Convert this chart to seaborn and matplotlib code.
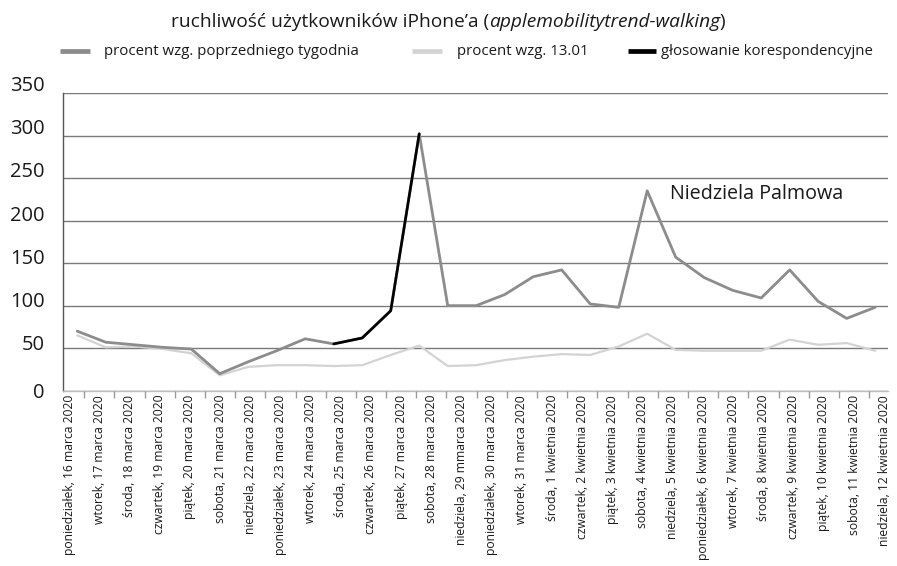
import matplotlib
matplotlib.use("Agg")
import numpy as np
import pandas as pd
import matplotlib.pyplot as plt
import seaborn as sns
from matplotlib.lines import Line2D
from matplotlib.transforms import ScaledTranslation

# ---------------- data ----------------
title_main = "ruchliwość użytkowników iPhone’a ("
title_italic = "applemobilitytrend-walking"
title_end = ")"

day_labels = [
    "poniedziałek, 16 marca 2020", "wtorek, 17 marca 2020", "środa, 18 marca 2020",
    "czwartek, 19 marca 2020", "piątek, 20 marca 2020", "sobota, 21 marca 2020",
    "niedziela, 22 marca 2020", "poniedziałek, 23 marca 2020", "wtorek, 24 marca 2020",
    "środa, 25 marca 2020", "czwartek, 26 marca 2020", "piątek, 27 marca 2020",
    "sobota, 28 marca 2020", "niedziela, 29 mmarca 2020", "poniedziałek, 30 marca 2020",
    "wtorek, 31 marca 2020", "środa, 1 kwietnia 2020", "czwartek, 2 kwietnia 2020",
    "piątek, 3 kwietnia 2020", "sobota, 4 kwietnia 2020", "niedziela, 5 kwietnia 2020",
    "poniedziałek, 6 kwietnia 2020", "wtorek, 7 kwietnia 2020", "środa, 8 kwietnia 2020",
    "czwartek, 9 kwietnia 2020", "piątek, 10 kwietnia 2020", "sobota, 11 kwietnia 2020",
    "niedziela, 12 kwietnia 2020",
]

series_names = ["procent wzg. poprzedniego tygodnia", "procent wzg. 13.01",
                "głosowanie korespondencyjne"]

weekly = [70, 57, 54, 51, 49, 20, 34, 47, 61, 55, 62, 94, 302, 100, 100, 113, 134,
          142, 102, 98, 235, 157, 133, 118, 109, 142, 105, 85, 98]
baseline = [65, 51, 52, 49, 44, 18, 28, 30, 30, 29, 30, 42, 53, 29, 30, 36, 40,
            43, 42, 52, 67, 48, 47, 47, 47, 60, 54, 56, 47]
vote = [np.nan] * 9 + [55, 62, 94, 302] + [np.nan] * 16

y_ticks = [0, 50, 100, 150, 200, 250, 300, 350]
annotation_text = "Niedziela Palmowa"

# ---------------- style ----------------
sns.set_theme(style="white")
plt.rcParams["font.family"] = ["Open Sans", "DejaVu Sans"]
TXT = "#1a1a1a"
colors = ["#8c8c8c", "#d3d3d3", "#000000"]
widths = [2.0, 1.6, 1.9]

W, H = 897, 566
fig = plt.figure(figsize=(W / 100, H / 100), dpi=100)
fig.patch.set_facecolor("white")

# plot area in pixels
left_px, right_px, top_px, bottom_px = 63, 888, 93, 390.7
ax = fig.add_axes([left_px / W, 1 - bottom_px / H, (right_px - left_px) / W,
                   (bottom_px - top_px) / H])

idx = np.arange(len(weekly))
df = pd.DataFrame({"idx": idx, series_names[0]: weekly,
                   series_names[1]: baseline, series_names[2]: vote})
long = df.melt(id_vars="idx", var_name="series", value_name="value")

# draw light first, then dark, then black on top
for name, col, lw in [(series_names[1], colors[1], widths[1]),
                      (series_names[0], colors[0], widths[0]),
                      (series_names[2], colors[2], widths[2])]:
    sub = long[long["series"] == name].dropna()
    sns.lineplot(data=sub, x="idx", y="value", ax=ax, color=col, linewidth=lw,
                 legend=False, sort=False)

ax.set_xlim(-0.5, 28.45)
ax.set_ylim(0, 350)
ax.set_yticks(y_ticks)
ax.set_yticklabels([str(v) for v in y_ticks], fontsize=14.5, color=TXT)
ax.tick_params(axis="y", length=0, pad=13)
for lbl, v in zip(ax.get_yticklabels(), y_ticks):
    if v > 0:
        off = 5 + 0.0125 * v
        lbl.set_transform(lbl.get_transform() +
                          ScaledTranslation(0, off / 100, fig.dpi_scale_trans))
ax.set_xticks([])
ax.set_xlabel("")
ax.set_ylabel("")
ax.yaxis.grid(True, color="#7a7a7a", linewidth=1.0)
ax.set_axisbelow(True)
for s in ["top", "right"]:
    ax.spines[s].set_visible(False)
ax.spines["left"].set_color("#555555")
ax.spines["left"].set_linewidth(1.0)
ax.spines["bottom"].set_color("#bdbdbd")
ax.spines["bottom"].set_linewidth(1.0)

# category label axis
ax2 = ax.twiny()
ax2.set_xlim(-0.199, 27.12)
ax2.xaxis.set_ticks_position("bottom")
ax2.xaxis.set_label_position("bottom")
ax2.set_xticks(np.arange(len(day_labels)))
ax2.set_xticklabels(day_labels, rotation=90, fontsize=8.75, color=TXT, va="top",
                    ha="center")
ax2.set_xticks(np.arange(0.5, len(day_labels) - 1, 1.0), minor=True)
ax2.tick_params(axis="x", which="major", length=0, pad=3)
ax2.tick_params(axis="x", which="minor", length=5, width=1, color="#9a9a9a",
                direction="out")
for s in ax2.spines.values():
    s.set_visible(False)
ax2.grid(False)

# annotation
ax.text(20.8, 225, annotation_text, fontsize=14.2, color=TXT, ha="left",
        va="baseline")

# title (mixed style)
r = fig.canvas.get_renderer()
ty = 1 - 27 / H
t1 = fig.text(0, ty, title_main, fontsize=13.8, color=TXT, va="baseline")
t2 = fig.text(0, ty, title_italic, fontsize=13.8, color=TXT, va="baseline",
              style="italic")
t3 = fig.text(0, ty, title_end, fontsize=13.8, color=TXT, va="baseline")
ws = [t.get_window_extent(r).width for t in (t1, t2, t3)]
x0 = 448 - sum(ws) / 2
t1.set_x(x0 / W)
t2.set_x((x0 + ws[0]) / W)
t3.set_x((x0 + ws[0] + ws[1]) / W)

# legend (manual)
leg_y = 1 - 51 / H
leg_text_y = 1 - 55 / H
swatches = [(60, 90, 104), (412, 442, 457), (628, 656, 661)]
for (x1, x2, xt), name, col in zip(swatches, series_names, colors):
    fig.add_artist(Line2D([x1 / W, x2 / W], [leg_y, leg_y], color=col,
                          linewidth=3.4, solid_capstyle="butt"))
    fig.text(xt / W, leg_text_y, name, fontsize=10.8, color=TXT, va="baseline",
             ha="left")

fig.savefig("out.png", dpi=100)
